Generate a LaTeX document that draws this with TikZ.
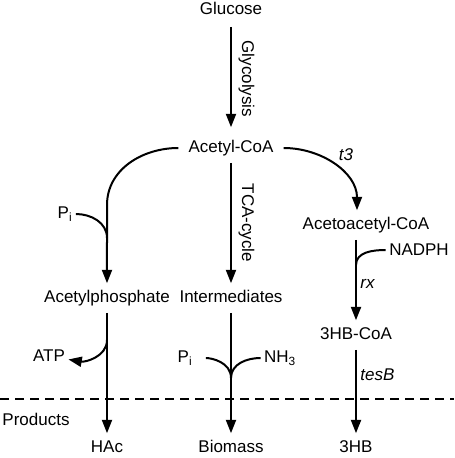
\documentclass[tikz,border=0pt]{standalone}
\usepackage{fontspec}
\setmainfont{Liberation Sans}
\usetikzlibrary{
    arrows.meta,
    positioning
}

\begin{document}
\begin{tikzpicture}[
    x=0.03cm, y=-0.03cm,
    node distance=4.5cm,
    metabolite/.style={font=\fontsize{14.5}{17}\selectfont, text height=10.5pt, text depth=3pt,
                       inner xsep=0.3cm, inner ysep=0.2cm},
    sidenode/.style={font=\fontsize{14.5}{17}\selectfont, inner sep=0.1cm},
    pathway/.style={font=\fontsize{14.5}{17}\selectfont, rotate=-90, anchor=south, inner sep=0.2cm},
    enzyme/.style={font=\fontsize{14.5}{17}\selectfont\itshape, inner sep=0.1cm},
    arrow/.style={-{Triangle[length=0.4cm, width=0.3cm]}, line width=0.06cm},
    branch/.style={line width=0.06cm},
    divider/.style={line width=0.06cm, dash pattern=on 0.28cm off 0.17cm}
]
    \useasboundingbox (0,0) rectangle (454,458);

    % Central pathway
    \node (glucose) [metabolite] at (231,10) {Glucose};
    \node (acetylcoa) [metabolite, below of=glucose, yshift=0.36cm] {Acetyl-CoA};
    \node (intermediates) [metabolite, below of=acetylcoa] {Intermediates};
    \node (biomass) [metabolite, below of=intermediates] {Biomass};

    % Acetate branch
    \node (acetylphosphate) [metabolite, left of=intermediates, xshift=0.78cm] {Acetylphosphate};
    \node (hac) [metabolite, below of=acetylphosphate] {HAc};

    % 3HB branch
    \node (hb) [metabolite, right of=biomass, xshift=-0.75cm] {3HB};
    \node (hbcoa) [metabolite, above of=hb, yshift=-1.11cm] {3HB-CoA};
    \node (acetoacetylcoa) [metabolite] at (366,225) {Acetoacetyl-CoA};

    % Cofactors
    \node (pileft) [sidenode] at (65,214) {P\textsubscript{i}};
    \node (atp) [sidenode] at (49,356) {ATP};
    \node (pibiomass) [sidenode] at (185,358) {P\textsubscript{i}};
    \node (nhthree) [sidenode] at (280,358) {NH\textsubscript{3}};
    \node (nadph) [sidenode] at (419,250) {NADPH};
    \node (products) [sidenode] at (36,419) {Products};

    \coordinate (leftbend) at (107,205);
    \coordinate (pijoin) at (107,238);
    \coordinate (atpbranch) at (107,340);
    \coordinate (biomassjoin) at (231,378);
    \coordinate (nadphjoin) at (356,265);

    % Connections
    \draw [arrow, shorten >=0.18cm, shorten <=0.06cm] (glucose) -- node[pathway] {Glycolysis} (acetylcoa);
    \draw [arrow] (acetylcoa) -- node[pathway] {TCA-cycle} (intermediates);
    \draw [arrow] (intermediates) -- (biomass);
    \draw [arrow] (acetylcoa.west) to[out=180, in=90] (leftbend) -- (acetylphosphate);
    \draw [arrow] (acetylphosphate) -- (hac);
    \draw [arrow] (acetylcoa.east) to[out=0, in=90] node[enzyme, pos=0.5, above right] {t3}
        ([xshift=-0.27cm]acetoacetylcoa.north);
    \draw [arrow] (hbcoa.north |- acetoacetylcoa.south) -- node[enzyme, right, pos=0.55] {rx} (hbcoa);
    \draw [arrow] (hbcoa) -- node[enzyme, right, pos=0.3] {tesB} (hb);

    \draw [branch] (pileft) to[out=0, in=90] (pijoin);
    \draw [arrow] (atpbranch) to[out=-90, in=-10] (atp);
    \draw [branch, shorten <=0.3cm] (pibiomass) to[out=0, in=90] (biomassjoin);
    \draw [branch] (nhthree) to[out=180, in=90] (biomassjoin);
    \draw [branch] (nadph) to[out=180, in=90] (nadphjoin);

    % Products line
    \draw [divider] (0,399) -- (454,399);

\end{tikzpicture}
\end{document}
